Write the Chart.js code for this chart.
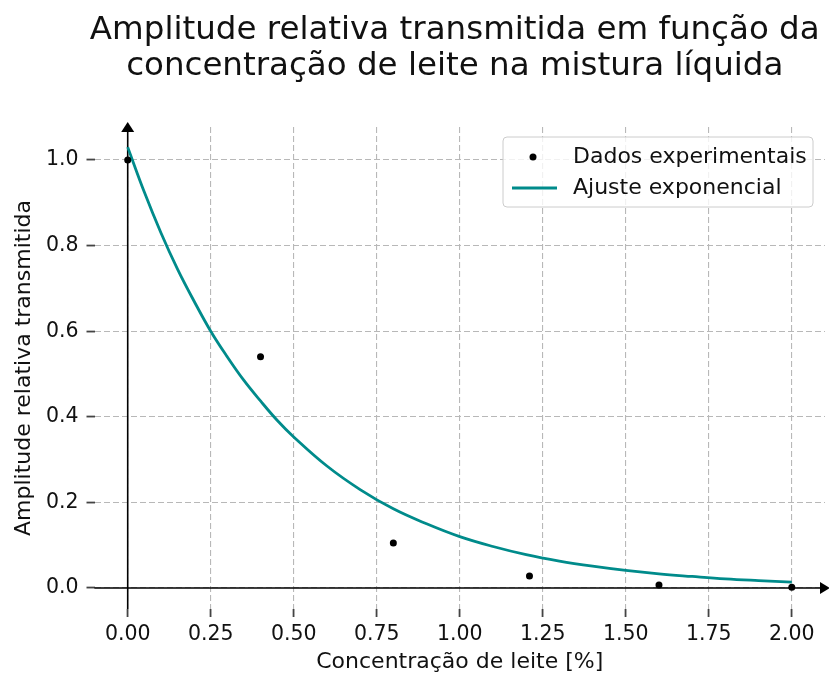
<!DOCTYPE html>
<html>
<head>
<meta charset="utf-8">
<script src="https://cdn.jsdelivr.net/npm/chart.js@4/dist/chart.umd.min.js"></script>
<style>
  html, body { margin: 0; padding: 0; background: #fff; }
  canvas { display: block; }
</style>
</head>
<body>
<canvas id="chart" width="829" height="675"></canvas>
<script>
// measured points
const concentration = [0.0, 0.4, 0.8, 1.21, 1.6, 2.0];
const amplitude = [1.0, 0.54, 0.105, 0.028, 0.007, 0.002];

// fitted curve
const fitX = [0.0, 0.05, 0.1, 0.15, 0.2, 0.25, 0.3, 0.35, 0.4, 0.45, 0.5,
              0.6, 0.7, 0.8, 0.9, 1.0, 1.1, 1.2, 1.3, 1.4, 1.5,
              1.6, 1.7, 1.8, 1.9, 2.0];
const fitY = [1.03, 0.925, 0.83, 0.745, 0.67, 0.60, 0.54, 0.485, 0.437, 0.392, 0.353,
              0.285, 0.23, 0.185, 0.15, 0.12, 0.097, 0.078, 0.063, 0.051, 0.041,
              0.033, 0.027, 0.0215, 0.0175, 0.014];

const xTicks = [0, 0.25, 0.5, 0.75, 1.0, 1.25, 1.5, 1.75, 2.0];
const yTicks = [0, 0.2, 0.4, 0.6, 0.8, 1.0];

const titleLines = ["Amplitude relativa transmitida em função da",
                    "concentração de leite na mistura líquida"];
const xLabel = "Concentração de leite [%]";
const yLabel = "Amplitude relativa transmitida";
const seriesNames = ["Dados experimentais", "Ajuste exponencial"];

const FONT = "'DejaVu Sans', sans-serif";
const TEAL = "#008b8b";
const TEXT = "#111";

const decorations = {
  id: "decorations",
  beforeDatasetsDraw(chart) {
    const { ctx, chartArea: a, scales: { x, y } } = chart;
    const x0 = x.getPixelForValue(0);
    const y0 = y.getPixelForValue(0);
    ctx.save();
    ctx.strokeStyle = "#000";
    ctx.fillStyle = "#000";
    ctx.lineWidth = 1.6;
    ctx.beginPath();
    ctx.moveTo(x0, a.bottom);
    ctx.lineTo(x0, a.top);
    ctx.moveTo(a.left, y0);
    ctx.lineTo(a.right, y0);
    ctx.stroke();
    // arrow heads
    ctx.beginPath();
    ctx.moveTo(x0, a.top - 5);
    ctx.lineTo(x0 - 6.5, a.top + 5);
    ctx.lineTo(x0 + 6.5, a.top + 5);
    ctx.closePath();
    ctx.fill();
    ctx.beginPath();
    ctx.moveTo(a.right + 5, y0);
    ctx.lineTo(a.right - 5, y0 - 6);
    ctx.lineTo(a.right - 5, y0 + 6);
    ctx.closePath();
    ctx.fill();
    ctx.restore();
  },
  afterDraw(chart) {
    const { ctx, chartArea: a } = chart;
    ctx.save();
    // title
    ctx.fillStyle = TEXT;
    ctx.font = "32.5px " + FONT;
    ctx.textAlign = "center";
    ctx.textBaseline = "alphabetic";
    const cx = (a.left + a.right) / 2 - 5;
    ctx.fillText(titleLines[0], cx, 39);
    ctx.fillText(titleLines[1], cx, 75);

    // legend
    const lw = 310, lh = 70;
    const lx = a.right - 12 - lw, ly = a.top + 10;
    ctx.beginPath();
    ctx.roundRect(lx, ly, lw, lh, 4);
    ctx.fillStyle = "rgba(255,255,255,0.8)";
    ctx.fill();
    ctx.strokeStyle = "#cccccc";
    ctx.lineWidth = 1;
    ctx.stroke();

    ctx.fillStyle = "#000";
    ctx.beginPath();
    ctx.arc(lx + 30, ly + 20, 3.5, 0, Math.PI * 2);
    ctx.fill();

    ctx.strokeStyle = TEAL;
    ctx.lineWidth = 2.8;
    ctx.beginPath();
    ctx.moveTo(lx + 9, ly + 51);
    ctx.lineTo(lx + 54, ly + 51);
    ctx.stroke();

    ctx.fillStyle = TEXT;
    ctx.font = "22px " + FONT;
    ctx.textAlign = "left";
    ctx.textBaseline = "middle";
    ctx.fillText(seriesNames[0], lx + 70, ly + 20);
    ctx.fillText(seriesNames[1], lx + 70, ly + 51);
    ctx.restore();
  }
};

const gridOpts = {
  color: "#b8b8b8",
  lineWidth: 1.1,
  tickColor: "#444",
  tickWidth: 1.8,
  tickLength: 8,
};

new Chart(document.getElementById("chart"), {
  type: "scatter",
  data: {
    datasets: [
      {
        label: seriesNames[1],
        type: "line",
        data: fitX.map((v, i) => ({ x: v, y: fitY[i] })),
        borderColor: TEAL,
        borderWidth: 2.8,
        pointRadius: 0,
        tension: 0.4,
        fill: false,
        order: 2,
      },
      {
        label: seriesNames[0],
        data: concentration.map((v, i) => ({ x: v, y: amplitude[i] })),
        backgroundColor: "#000",
        borderWidth: 0,
        pointRadius: 3.5,
        order: 1,
      },
    ],
  },
  options: {
    responsive: false,
    animation: false,
    layout: { padding: { top: 127, right: 4, left: 0, bottom: 0 } },
    plugins: {
      legend: { display: false },
      title: { display: false },
      tooltip: { enabled: false },
    },
    scales: {
      x: {
        type: "linear",
        min: -0.1,
        max: 2.1,
        afterBuildTicks: (s) => { s.ticks = xTicks.map((v) => ({ value: v })); },
        afterFit: (s) => { s.height = 66; },
        grid: gridOpts,
        border: { display: false, dash: [6, 3] },
        ticks: {
          autoSkip: false,
          maxRotation: 0,
          padding: 5,
          color: TEXT,
          font: { family: FONT, size: 20.5 },
          callback: (v) => Number(v).toFixed(2),
        },
        title: {
          display: true,
          text: xLabel,
          color: TEXT,
          font: { family: FONT, size: 22 },
          padding: { top: 0, bottom: 0 },
        },
      },
      y: {
        type: "linear",
        min: -0.049,
        max: 1.077,
        afterBuildTicks: (s) => { s.ticks = yTicks.map((v) => ({ value: v })); },
        afterFit: (s) => { s.width = 94.5; },
        grid: gridOpts,
        border: { display: false, dash: [6, 3] },
        ticks: {
          padding: 8,
          color: TEXT,
          font: { family: FONT, size: 20.5 },
          callback: (v) => Number(v).toFixed(1),
        },
        title: {
          display: true,
          text: yLabel,
          color: TEXT,
          font: { family: FONT, size: 22 },
          padding: { top: 11, bottom: 0 },
        },
      },
    },
  },
  plugins: [decorations],
});
</script>
</body>
</html>
